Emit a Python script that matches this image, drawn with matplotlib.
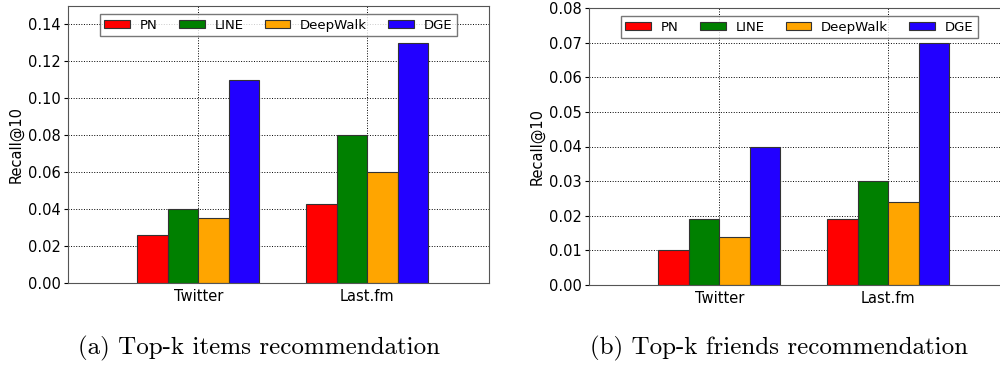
import matplotlib
matplotlib.use("Agg")
import matplotlib.pyplot as plt
import numpy as np

datasets = ["Twitter", "Last.fm"]
methods = ["PN", "LINE", "DeepWalk", "DGE"]
colors = ["#ff0000", "#008000", "#ffa500", "#2200ff"]

items_recall = {
    "PN": [0.026, 0.043],
    "LINE": [0.040, 0.080],
    "DeepWalk": [0.035, 0.060],
    "DGE": [0.110, 0.130],
}
friends_recall = {
    "PN": [0.010, 0.019],
    "LINE": [0.019, 0.030],
    "DeepWalk": [0.014, 0.024],
    "DGE": [0.040, 0.070],
}

captions = ["(a) Top-k items recommendation", "(b) Top-k friends recommendation"]

W, H = 1000, 365
fig = plt.figure(figsize=(W / 100, H / 100), dpi=100)

width = 0.18
ind = np.arange(len(datasets))


def panel(rect, data, ylim, step):
    ax = fig.add_axes(rect)
    for i, m in enumerate(methods):
        ax.bar(ind + (i - 1.5) * width, data[m], width, color=colors[i],
               edgecolor="#333333", linewidth=0.8, label=m, zorder=2)
    ax.set_xlim(-0.77, 1.72)
    ax.set_ylim(*ylim)
    ax.set_yticks(np.arange(0, ylim[1] + 1e-9, step))
    ax.yaxis.set_major_formatter(plt.FormatStrFormatter("%.2f"))
    ax.set_xticks(ind)
    ax.set_xticklabels(datasets)
    ax.grid(True, linestyle=":", color="black", linewidth=0.7, zorder=0)
    ax.set_axisbelow(True)
    ax.tick_params(labelsize=10.5, direction="out", length=3, pad=2)
    ax.tick_params(axis="x", length=0, pad=4)
    for s in ax.spines.values():
        s.set_color("#555555")
    ax.set_ylabel("Recall@10", fontsize=10.5, labelpad=3.5)
    leg = ax.legend(ncol=4, loc="upper center", fontsize=9.5, fancybox=False,
                    handlelength=1.95, handleheight=0.6, handletextpad=0.75,
                    columnspacing=1.6, borderpad=0.35, borderaxespad=0.3,
                    bbox_to_anchor=(0.5, 0.985))
    leg.get_frame().set_edgecolor("#555555")
    return ax


panel([68 / W, 1 - 283 / H, 421 / W, 277 / H], items_recall, (0, 0.15), 0.02)
panel([589 / W, 1 - 285 / H, 421 / W, 277 / H], friends_recall, (0, 0.08), 0.01)

fig.text(259 / W, 1 - 348 / H, captions[0], ha="center", va="center",
         family="cmr10", fontsize=18)
fig.text(779 / W, 1 - 348 / H, captions[1], ha="center", va="center",
         family="cmr10", fontsize=18)

fig.savefig("out.png", dpi=100)
